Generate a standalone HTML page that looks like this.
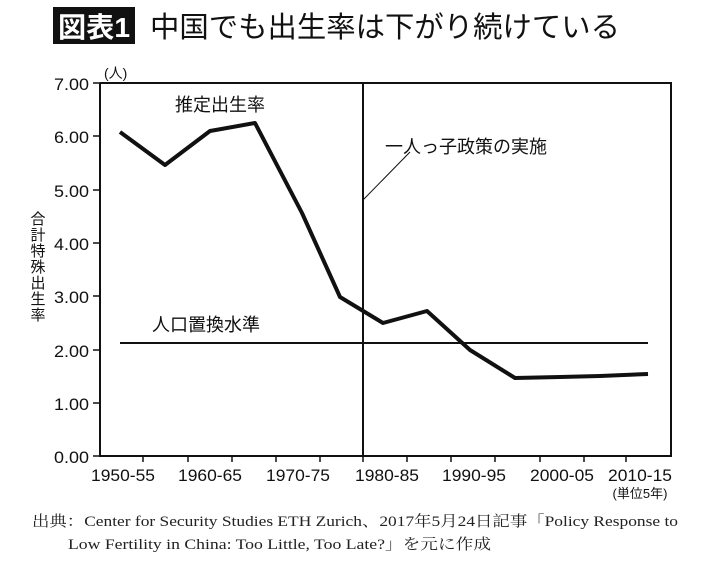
<!DOCTYPE html>
<html><head><meta charset="utf-8"><style>
body{margin:0;background:#fff;width:710px;height:560px;overflow:hidden;font-family:"Liberation Sans","Noto Sans CJK JP",sans-serif;}
</style></head><body>
<svg width="710" height="560" xmlns="http://www.w3.org/2000/svg" font-family="'Liberation Sans','Noto Sans CJK JP',sans-serif">
<rect x="53" y="7" width="82" height="37" fill="#111"/>
<text x="58" y="37" font-size="28" fill="#fff" font-weight="bold" textLength="72" lengthAdjust="spacingAndGlyphs">図表1</text>
<text x="150" y="37" font-size="29" fill="#111" textLength="470" lengthAdjust="spacingAndGlyphs">中国でも出生率は下がり続けている</text>
<g fill="none" stroke="#111" stroke-width="2">
<polyline points="100,83 100,456 671,456 671,83 100,83"/>
<line x1="363" y1="83" x2="363" y2="456"/>
<line x1="120" y1="343" x2="648" y2="343"/>
<line x1="363" y1="200" x2="410" y2="152" stroke-width="1"/>
</g>
<g stroke="#111" stroke-width="1.5">
<line x1="93" y1="83" x2="100" y2="83"/><line x1="93" y1="136" x2="100" y2="136"/><line x1="93" y1="190" x2="100" y2="190"/><line x1="93" y1="243" x2="100" y2="243"/><line x1="93" y1="296" x2="100" y2="296"/><line x1="93" y1="350" x2="100" y2="350"/><line x1="93" y1="403" x2="100" y2="403"/><line x1="93" y1="456" x2="100" y2="456"/>
<line x1="143" y1="456" x2="143" y2="462"/><line x1="188" y1="456" x2="188" y2="462"/><line x1="232" y1="456" x2="232" y2="462"/><line x1="276" y1="456" x2="276" y2="462"/><line x1="320" y1="456" x2="320" y2="462"/><line x1="363" y1="456" x2="363" y2="462"/><line x1="407" y1="456" x2="407" y2="462"/><line x1="451" y1="456" x2="451" y2="462"/><line x1="495" y1="456" x2="495" y2="462"/><line x1="540" y1="456" x2="540" y2="462"/><line x1="584" y1="456" x2="584" y2="462"/><line x1="626" y1="456" x2="626" y2="462"/>
</g>
<polyline fill="none" stroke="#111" stroke-width="4" stroke-linejoin="round" points="120,132 165,165 210,131 255,123 302,213 340,297 383,323 427,311 470,350 515,378 560,377 600,376 648,374"/>
<g font-size="17" fill="#111">
<text x="54" y="90" textLength="35" lengthAdjust="spacingAndGlyphs">7.00</text><text x="54" y="143" textLength="35" lengthAdjust="spacingAndGlyphs">6.00</text><text x="54" y="197" textLength="35" lengthAdjust="spacingAndGlyphs">5.00</text><text x="54" y="250" textLength="35" lengthAdjust="spacingAndGlyphs">4.00</text><text x="54" y="303" textLength="35" lengthAdjust="spacingAndGlyphs">3.00</text><text x="54" y="357" textLength="35" lengthAdjust="spacingAndGlyphs">2.00</text><text x="54" y="410" textLength="35" lengthAdjust="spacingAndGlyphs">1.00</text><text x="54" y="463" textLength="35" lengthAdjust="spacingAndGlyphs">0.00</text>
</g>
<g font-size="17" fill="#111">
<text x="91" y="481" textLength="64" lengthAdjust="spacingAndGlyphs">1950-55</text><text x="178" y="481" textLength="64" lengthAdjust="spacingAndGlyphs">1960-65</text><text x="266" y="481" textLength="64" lengthAdjust="spacingAndGlyphs">1970-75</text><text x="355" y="481" textLength="64" lengthAdjust="spacingAndGlyphs">1980-85</text><text x="442" y="481" textLength="64" lengthAdjust="spacingAndGlyphs">1990-95</text><text x="530" y="481" textLength="64" lengthAdjust="spacingAndGlyphs">2000-05</text><text x="608" y="481" textLength="64" lengthAdjust="spacingAndGlyphs">2010-15</text>
</g>
<text x="640" y="498" font-size="13" fill="#111" text-anchor="middle">(単位5年)</text>
<text x="104" y="78" font-size="14" fill="#111">(人)</text>
<text x="175" y="111" font-size="18" fill="#111">推定出生率</text>
<text x="385" y="153" font-size="18" fill="#111">一人っ子政策の実施</text>
<text x="152" y="331" font-size="18" fill="#111">人口置換水準</text>
<g font-size="15" fill="#111" text-anchor="middle">
<text x="38" y="224">合</text><text x="38" y="240">計</text><text x="38" y="256">特</text><text x="38" y="272">殊</text><text x="38" y="288">出</text><text x="38" y="304">生</text><text x="38" y="320">率</text>
</g>
<g font-family="'Liberation Serif','Noto Serif CJK SC',serif" font-size="15" fill="#222">
<text x="32" y="526" textLength="646" lengthAdjust="spacingAndGlyphs">出典：Center for Security Studies ETH Zurich、2017年5月24日記事「Policy Response to</text>
<text x="68" y="549" textLength="423" lengthAdjust="spacingAndGlyphs">Low Fertility in China: Too Little, Too Late?」を元に作成</text>
</g>
</svg>
</body></html>
